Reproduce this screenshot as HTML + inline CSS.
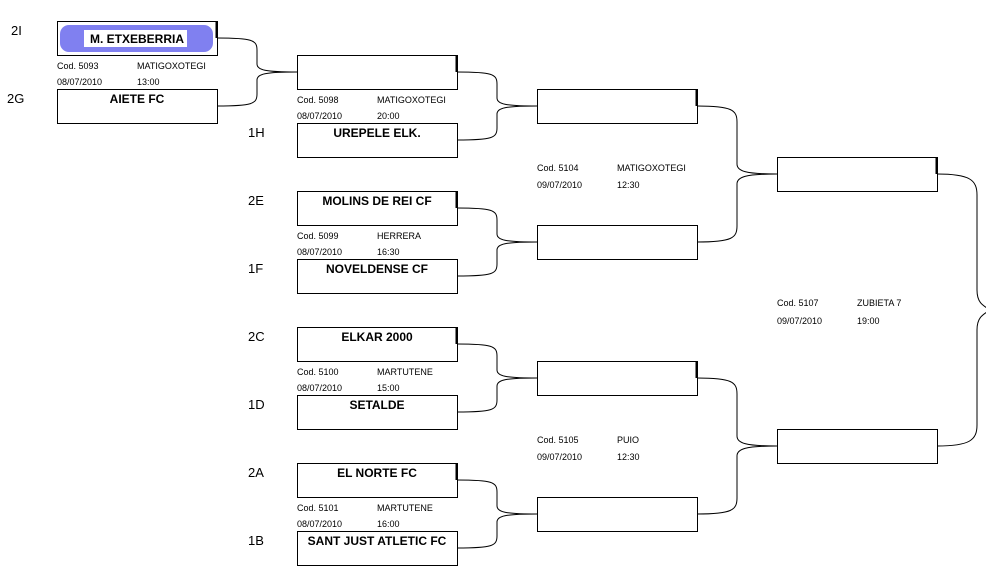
<!DOCTYPE html>
<html><head><meta charset="utf-8"><style>
html,body{margin:0;padding:0;background:#fff;}
svg{display:block;}
.t{font:bold 12px "Liberation Sans",sans-serif;fill:#000;text-anchor:middle;}
.s{font:9px "Liberation Sans",sans-serif;fill:#000;}
.k{font:13px "Liberation Sans",sans-serif;fill:#000;}
</style></head><body>
<svg width="986" height="577" viewBox="0 0 986 577" xmlns="http://www.w3.org/2000/svg">
<g fill="#fff" stroke="#000" stroke-width="1">
<rect x="57.5" y="21.5" width="160" height="34"/>
<rect x="57.5" y="89.5" width="160" height="34"/>
<rect x="297.5" y="55.5" width="160" height="34"/>
<rect x="297.5" y="123.5" width="160" height="34"/>
<rect x="297.5" y="191.5" width="160" height="34"/>
<rect x="297.5" y="259.5" width="160" height="34"/>
<rect x="297.5" y="327.5" width="160" height="34"/>
<rect x="297.5" y="395.5" width="160" height="34"/>
<rect x="297.5" y="463.5" width="160" height="34"/>
<rect x="297.5" y="531.5" width="160" height="34"/>
<rect x="537.5" y="89.5" width="160" height="34"/>
<rect x="537.5" y="225.5" width="160" height="34"/>
<rect x="537.5" y="361.5" width="160" height="34"/>
<rect x="537.5" y="497.5" width="160" height="34"/>
<rect x="777.5" y="157.5" width="160" height="34"/>
<rect x="777.5" y="429.5" width="160" height="34"/>
</g>
<g stroke="#000" stroke-width="2">
<line x1="216.5" y1="21" x2="216.5" y2="38"/>
<line x1="456.5" y1="55" x2="456.5" y2="72"/>
<line x1="456.5" y1="191" x2="456.5" y2="208"/>
<line x1="456.5" y1="327" x2="456.5" y2="344"/>
<line x1="456.5" y1="463" x2="456.5" y2="480"/>
<line x1="696.5" y1="89" x2="696.5" y2="106"/>
<line x1="696.5" y1="361" x2="696.5" y2="378"/>
<line x1="936.5" y1="157" x2="936.5" y2="174"/>
</g>
<rect x="60" y="25" width="153" height="27" rx="9" fill="#8080f0"/>
<rect x="84" y="30" width="103" height="17" fill="#fff"/>
<g fill="none" stroke="#000" stroke-width="1">
<path d="M217,38 C252,38 257,40 257,50 L257,64 C257,70 265,72 297,72"/>
<path d="M217,106 C252,106 257,104 257,94 L257,80 C257,74 265,72 297,72"/>
<path d="M457,72 C492,72 497,74 497,84 L497,98 C497,104 505,106 537,106"/>
<path d="M457,140 C492,140 497,138 497,128 L497,114 C497,108 505,106 537,106"/>
<path d="M457,208 C492,208 497,210 497,220 L497,234 C497,240 505,242 537,242"/>
<path d="M457,276 C492,276 497,274 497,264 L497,250 C497,244 505,242 537,242"/>
<path d="M457,344 C492,344 497,346 497,356 L497,370 C497,376 505,378 537,378"/>
<path d="M457,412 C492,412 497,410 497,400 L497,386 C497,380 505,378 537,378"/>
<path d="M457,480 C492,480 497,482 497,492 L497,506 C497,512 505,514 537,514"/>
<path d="M457,548 C492,548 497,546 497,536 L497,522 C497,516 505,514 537,514"/>
<path d="M697,106 C732,106 737,110 737,122 L737,164 C737,171 745,174 777,174"/>
<path d="M697,242 C732,242 737,238 737,226 L737,184 C737,177 745,174 777,174"/>
<path d="M697,378 C732,378 737,382 737,394 L737,436 C737,443 745,446 777,446"/>
<path d="M697,514 C732,514 737,510 737,498 L737,456 C737,449 745,446 777,446"/>
<path d="M937,174 C970,174 977,180 977,195 L977,290 C977,302 982,305 990,310"/>
<path d="M937,446 C970,446 977,440 977,425 L977,330 C977,318 982,315 990,310"/>
</g>
<text class="t" x="137" y="43">M. ETXEBERRIA</text>
<text class="t" x="137" y="103">AIETE FC</text>
<text class="t" x="377" y="137">UREPELE ELK.</text>
<text class="t" x="377" y="205">MOLINS DE REI CF</text>
<text class="t" x="377" y="273">NOVELDENSE CF</text>
<text class="t" x="377" y="341">ELKAR 2000</text>
<text class="t" x="377" y="409">SETALDE</text>
<text class="t" x="377" y="477">EL NORTE FC</text>
<text class="t" x="377" y="545">SANT JUST ATLETIC FC</text>
<text class="k" x="11" y="35">2I</text>
<text class="k" x="7" y="103">2G</text>
<text class="k" x="248" y="137">1H</text>
<text class="k" x="248" y="205">2E</text>
<text class="k" x="248" y="273">1F</text>
<text class="k" x="248" y="341">2C</text>
<text class="k" x="248" y="409">1D</text>
<text class="k" x="248" y="477">2A</text>
<text class="k" x="248" y="545">1B</text>
<g class="s">
<text x="57" y="69">Cod. 5093</text><text x="137" y="69">MATIGOXOTEGI</text>
<text x="57" y="85">08/07/2010</text><text x="137" y="85">13:00</text>
<text x="297" y="103">Cod. 5098</text><text x="377" y="103">MATIGOXOTEGI</text>
<text x="297" y="119">08/07/2010</text><text x="377" y="119">20:00</text>
<text x="297" y="239">Cod. 5099</text><text x="377" y="239">HERRERA</text>
<text x="297" y="255">08/07/2010</text><text x="377" y="255">16:30</text>
<text x="297" y="375">Cod. 5100</text><text x="377" y="375">MARTUTENE</text>
<text x="297" y="391">08/07/2010</text><text x="377" y="391">15:00</text>
<text x="297" y="511">Cod. 5101</text><text x="377" y="511">MARTUTENE</text>
<text x="297" y="527">08/07/2010</text><text x="377" y="527">16:00</text>
<text x="537" y="171">Cod. 5104</text><text x="617" y="171">MATIGOXOTEGI</text>
<text x="537" y="188">09/07/2010</text><text x="617" y="188">12:30</text>
<text x="537" y="443">Cod. 5105</text><text x="617" y="443">PUIO</text>
<text x="537" y="460">09/07/2010</text><text x="617" y="460">12:30</text>
<text x="777" y="306">Cod. 5107</text><text x="857" y="306">ZUBIETA 7</text>
<text x="777" y="324">09/07/2010</text><text x="857" y="324">19:00</text>
</g>
</svg>
</body></html>
